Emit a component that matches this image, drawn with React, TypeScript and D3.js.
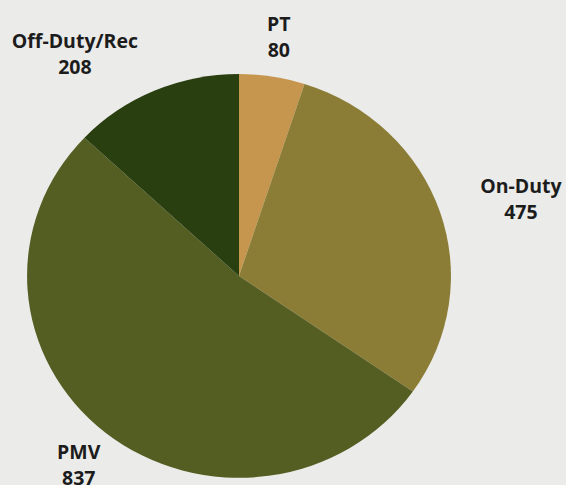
import React from "react";
import * as d3 from "d3";

const categories = ["PT", "On-Duty", "PMV", "Off-Duty/Rec"];
const values = [80, 475, 837, 208];
const colors = ["#C6964F", "#8B7C36", "#555E22", "#293F10"];
const anchors = ["middle", "start", "middle", "end"];

const W = 566;
const H = 485;
const cx = 239;
const cy = 276;
const rx = 212;
const ry = 202;
const labelFactor = 1.2;
const FONT = "700 19.5px 'Open Sans'";

function measure(s: string): number {
  const c = document.createElement("canvas").getContext("2d");
  if (!c) return s.length * 10;
  c.font = FONT;
  return c.measureText(s).width;
}

export default function App() {
  const pie = d3.pie<number>().sort(null).value((d) => d);
  const arcs = pie(values);
  const arc = d3.arc<d3.PieArcDatum<number>>().innerRadius(0).outerRadius(1);

  return (
    <svg
      width={W}
      height={H}
      style={{ position: "absolute", left: 0, top: 0, display: "block" }}
    >
      <rect x={0} y={0} width={W} height={H} fill="#EBEBE9" />
      <g transform={`translate(${cx},${cy}) scale(${rx},${ry})`}>
        {arcs.map((a, i) => (
          <path key={i} d={arc(a) || ""} fill={colors[i]} />
        ))}
      </g>
      {arcs.map((a, i) => {
        const mid = (a.startAngle + a.endAngle) / 2;
        const ax = cx + rx * labelFactor * Math.sin(mid);
        const y = cy - ry * labelFactor * Math.cos(mid);
        const w = Math.max(measure(categories[i]), measure(String(values[i])));
        const x =
          anchors[i] === "start" ? ax + w / 2 : anchors[i] === "end" ? ax - w / 2 : ax;
        return (
          <text
            key={i}
            x={x}
            y={y}
            textAnchor="middle"
            fontFamily="'Open Sans', sans-serif"
            fontWeight={700}
            fontSize={19.5}
            fill="#1c1c1c"
          >
            <tspan x={x} y={y - 13} dominantBaseline="central">
              {categories[i]}
            </tspan>
            <tspan x={x} y={y + 13} dominantBaseline="central">
              {values[i]}
            </tspan>
          </text>
        );
      })}
    </svg>
  );
}
